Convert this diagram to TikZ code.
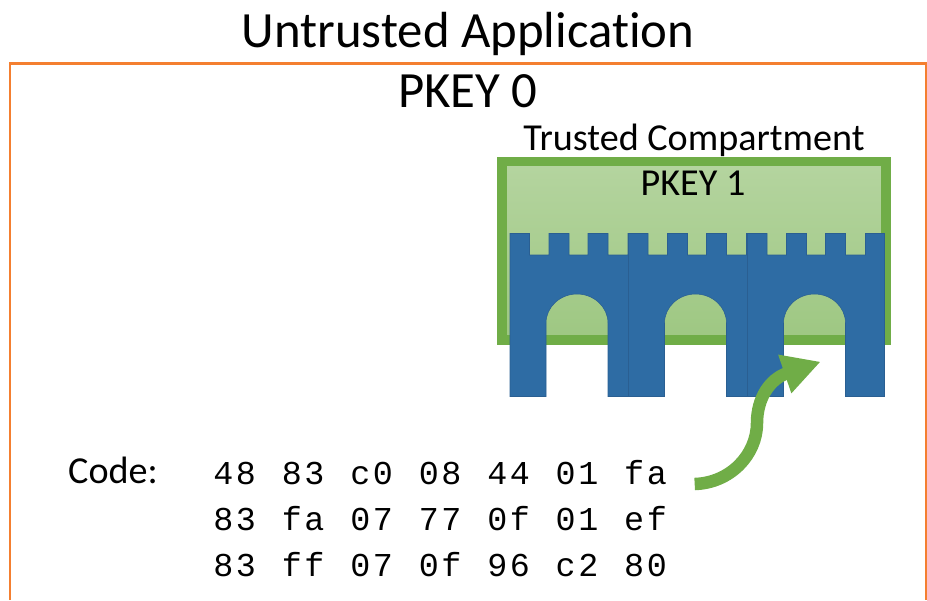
\documentclass[tikz,border=0pt]{standalone}
\usepackage{fontspec}
\usepackage{xcolor}
\usetikzlibrary{arrows.meta}
\setmainfont[Ligatures=NoCommon]{Carlito}
\setmonofont[LetterSpace=7.5,WordSpace=1.15]{Liberation Mono}
\definecolor{frameorange}{HTML}{F47F30}
\definecolor{boxgreen}{HTML}{70AD47}
\definecolor{brickblue}{HTML}{2E6CA4}
\definecolor{brickedge}{HTML}{2A5F92}
\tikzset{
	label/.style={inner sep=0pt, text=black},
	coderow/.style={inner sep=0pt, anchor=base west, font=\fontsize{19}{24}\ttfamily},
	brick/.style={fill=brickblue, draw=brickedge, line width=0.3pt},
}

\begin{document}
\begin{tikzpicture}[x=0.02cm, y=-0.02cm]
	\useasboundingbox (0,0) rectangle (927,600);
	\draw [frameorange, line width=1.7pt] (10,600) -- (10,63) -- (926,63) -- (926,600);
	\draw [boxgreen, line width=5.4pt, top color=boxgreen!52!white, bottom color=boxgreen!68!white] (502,161.3) rectangle (886,340);
	% three bricks of the wall
	\foreach \bx in {510,628.5,747.5} {
		\begin{scope}[shift={(\bx,233.5)}]
			\draw [brick] (0,0) -- (19.5,0) -- (19.5,21.5) -- (39,21.5) -- (39,0) -- (59,0) -- (59,21.5) -- (78,21.5) -- (78,0) -- (98,0) -- (98,21.5) -- (118,21.5) -- (118,0) -- (137,0) -- (137,163) -- (98,163) -- (98,89.5) .. controls (98,73.5) and (84,60.5) .. (67,60.5) .. controls (50,60.5) and (36,73.5) .. (36,89.5) -- (36,163) -- (0,163) -- cycle;
		\end{scope}
	}
	\node [label, font=\fontsize{28.9}{34}\selectfont] (title) at (468,34) {Untrusted Application};
	\node [label, font=\fontsize{28.9}{34}\selectfont] (outerkey) at (468,91) {PKEY 0};
	\node [label, font=\fontsize{21.7}{26}\selectfont] (compartment) at (694,140) {Trusted Compartment};
	\node [label, font=\fontsize{21.7}{26}\selectfont] (innerkey) at (693,183) {PKEY 1};
	\node [label, font=\fontsize{21.7}{26}\selectfont] (codelabel) at (113,470) {Code:};
	\node [coderow] (rowa) at (213,484) {48 83 c0 08 44 01 fa};
	\node [coderow] (rowb) at (213,530) {83 fa 07 77 0f 01 ef};
	\node [coderow] (rowc) at (213,576) {83 ff 07 0f 96 c2 80};
	\coordinate (gate) at (820.7,361.7);
	\draw [-{Triangle[length=0.76cm, width=0.76cm]}, boxgreen, line width=0.25cm] ([xshift=0.55cm]rowa.base east) .. controls (730,483) and (757,455) .. (757,423) .. controls (757,398) and (770,379) .. (gate);
\end{tikzpicture}
\end{document}
